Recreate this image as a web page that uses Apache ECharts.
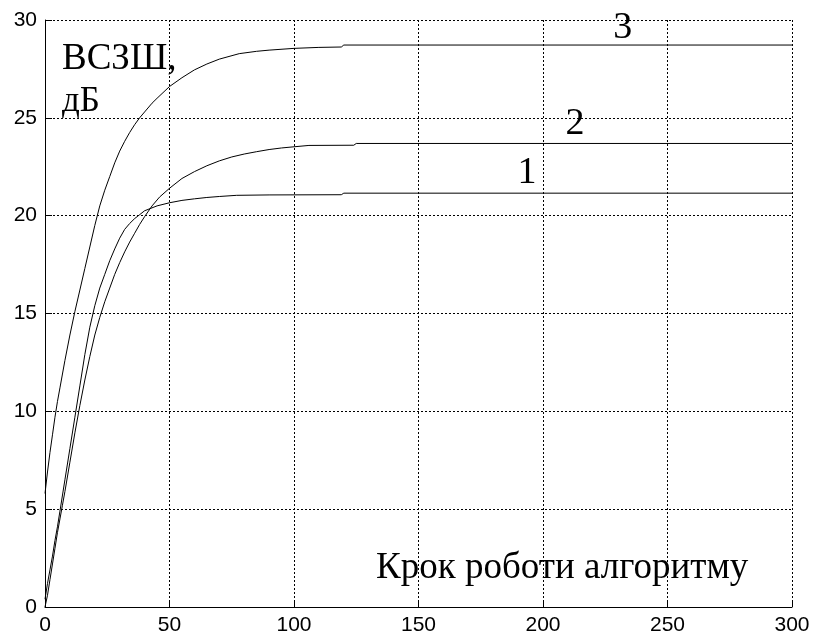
<!DOCTYPE html>
<html>
<head>
<meta charset="utf-8">
<script src="https://cdn.jsdelivr.net/npm/echarts@6/dist/echarts.min.js"></script>
<style>
html,body{margin:0;padding:0;background:#fff;}
#chart{width:813px;height:637px;}
</style>
</head>
<body>
<div id="chart"></div>
<script>
// ---- data ----
var xTicks = [0, 50, 100, 150, 200, 250, 300];
var yTicks = [0, 5, 10, 15, 20, 25, 30];

var steps1 = [0,1,2,3,4,5,6,8,10,12,14,16,18,20,22,24,26,28,30,32,34,36,38,40,45,50,55,60,65,70,77,90,119,120,300];
var snr1   = [0.4,1.2,1.9,2.6,3.4,4.1,4.9,6.5,8.1,9.7,11.3,12.9,14.3,15.4,16.3,17.0,17.7,18.3,18.85,19.3,19.6,19.85,20.05,20.25,20.5,20.66,20.78,20.86,20.93,20.98,21.04,21.06,21.07,21.15,21.15];

var steps2 = [0,1,2,3,4,5,6,7,8,10,12,14,16,18,20,22,24,26,28,30,32,34,36,38,40,43,46,50,55,60,65,70,75,80,85,90,95,100,106,124,125,300];
var snr2   = [0,0.6,1.4,2.2,3.0,3.8,4.5,5.2,5.9,7.4,8.9,10.3,11.6,12.8,13.9,14.8,15.6,16.3,17.0,17.6,18.15,18.65,19.1,19.55,19.95,20.5,20.95,21.4,21.9,22.25,22.55,22.8,23.0,23.15,23.27,23.38,23.46,23.52,23.59,23.6,23.69,23.69];

var steps3 = [0,1,2,3,4,5,6,8,10,12,14,16,18,20,22,24,26,28,30,32,34,36,38,40,43,45,50,55,60,65,70,78,85,90,100,110,119,120,300];
var snr3   = [5.8,6.9,7.9,8.8,9.7,10.5,11.2,12.6,13.9,15.1,16.2,17.3,18.4,19.5,20.5,21.3,22.0,22.7,23.3,23.8,24.25,24.65,25.0,25.3,25.75,26.0,26.6,27.05,27.45,27.75,28.0,28.28,28.4,28.46,28.55,28.6,28.62,28.72,28.72];

var curveLabels = ['1', '2', '3'];
var curveLabelX = [193.6, 212.9, 232];
var curveLabelY = [22.2, 24.7, 29.6];

var yTitle1 = 'ВСЗШ,';
var yTitle2 = 'дБ';
var xTitle = 'Крок роботи алгоритму';

// ---- build ----
function pairs(xs, ys) { return xs.map(function (x, i) { return [x, ys[i]]; }); }

var serif = '"Liberation Serif", "Times New Roman", serif';
var sans = '"Liberation Sans", Arial, sans-serif';

var lineStyle = { color: '#000', width: 1 };
function curve(xs, ys) {
  return { type: 'line', data: pairs(xs, ys), showSymbol: false, symbol: 'none',
           lineStyle: lineStyle, animation: false, silent: true };
}

var chart = echarts.init(document.getElementById('chart'), null, { renderer: 'canvas' });
var option = {
  backgroundColor: '#fff',
  animation: false,
  grid: { left: 45, right: 21, top: 20, bottom: 30, containLabel: false },
  xAxis: {
    type: 'value', min: xTicks[0], max: xTicks[xTicks.length - 1], interval: xTicks[1] - xTicks[0],
    axisLine: { show: true, onZero: false, lineStyle: { color: '#000', width: 1 } },
    axisTick: { show: true, inside: true, length: 7, lineStyle: { color: '#000' } },
    axisLabel: { color: '#000', fontFamily: sans, fontSize: 21, margin: 8 },
    splitLine: { show: true, lineStyle: { color: '#000', width: 1, type: [2, 2] } }
  },
  yAxis: {
    type: 'value', min: yTicks[0], max: yTicks[yTicks.length - 1], interval: yTicks[1] - yTicks[0],
    axisLine: { show: true, onZero: false, lineStyle: { color: '#000', width: 1 } },
    axisTick: { show: true, inside: true, length: 7, lineStyle: { color: '#000' } },
    axisLabel: { color: '#000', fontFamily: sans, fontSize: 21, margin: 8 },
    splitLine: { show: true, lineStyle: { color: '#000', width: 1, type: [2, 2] } }
  },
  series: [
    curve(steps1, snr1),
    curve(steps2, snr2),
    curve(steps3, snr3),
    {
      type: 'scatter', symbolSize: 0, silent: true,
      itemStyle: { color: '#000', opacity: 1 },
      data: curveLabels.map(function (t, i) { return { name: t, value: [curveLabelX[i], curveLabelY[i]] }; }),
      label: { show: true, position: 'inside', formatter: '{b}', color: '#000', opacity: 1,
               textBorderWidth: 0, textBorderColor: 'transparent',
               fontFamily: serif, fontSize: 38 }
    }
  ],
  graphic: [
    { type: 'text', x: 62, y: 41, silent: true,
      style: { text: yTitle1, fill: '#000', font: '37px ' + serif, textVerticalAlign: 'alphabetic', verticalAlign: 'alphabetic' } },
    { type: 'text', x: 62, y: 84, silent: true,
      style: { text: yTitle2, fill: '#000', font: '35px ' + serif, textVerticalAlign: 'alphabetic', verticalAlign: 'alphabetic' } },
    { type: 'text', x: 376, y: 550, silent: true,
      style: { text: xTitle, fill: '#000', font: '37px ' + serif, textVerticalAlign: 'alphabetic', verticalAlign: 'alphabetic' } }
  ]
};
chart.setOption(option);
</script>
</body>
</html>
